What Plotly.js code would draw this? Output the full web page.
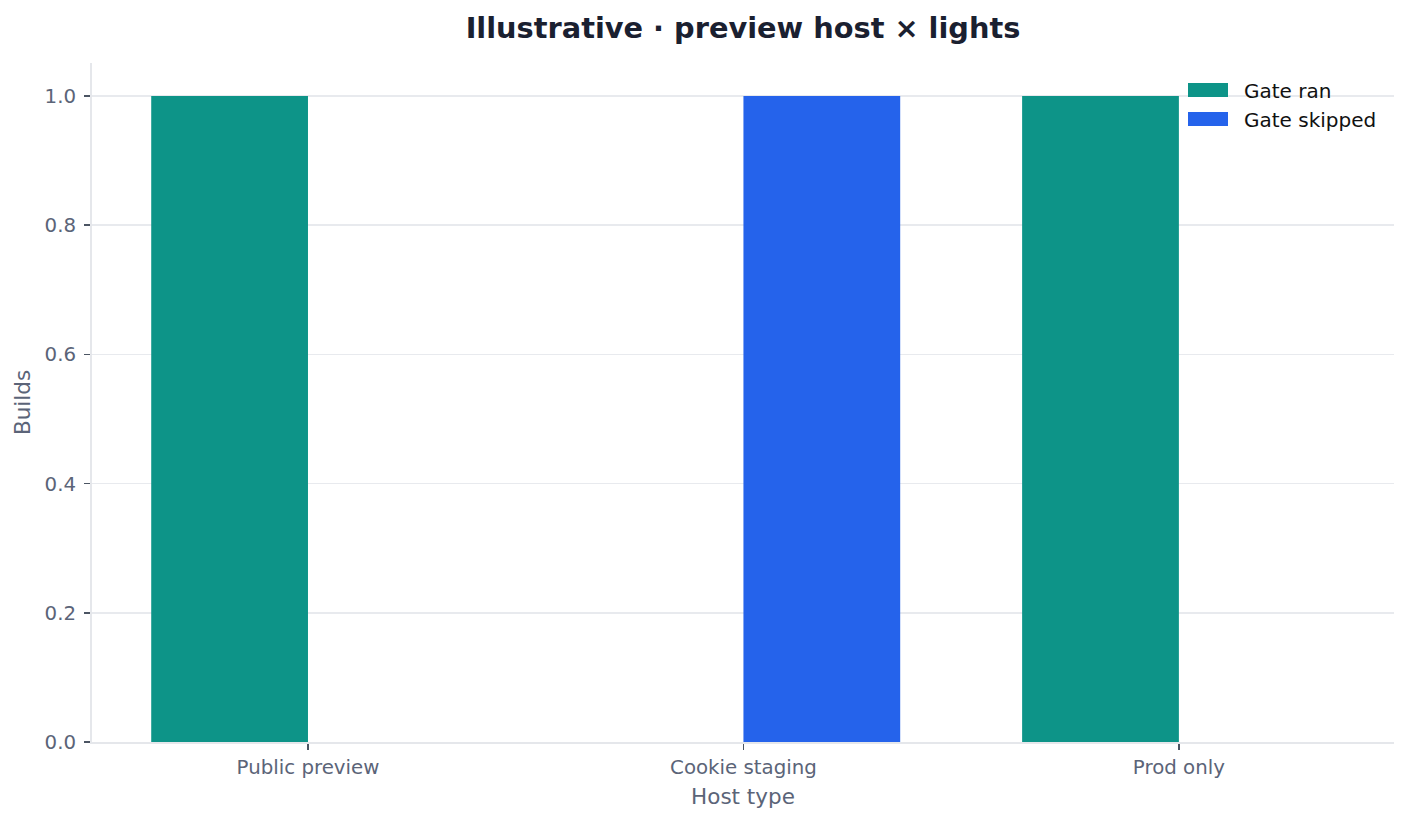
<!DOCTYPE html>
<html>
<head>
<meta charset="utf-8">
<script src="https://cdn.plot.ly/plotly-3.0.1.min.js"></script>
<style>
html,body{margin:0;padding:0;background:#fff;}
#chart{width:1410px;height:821px;}
</style>
</head>
<body>
<div id="chart"></div>
<script>
const categories = ["Public preview", "Cookie staging", "Prod only"];
const gateRan = [1, 0, 1];
const gateSkipped = [0, 1, 0];
const seriesNames = ["Gate ran", "Gate skipped"];
const seriesColors = ["#0d9488", "#2563eb"];
const yTicks = [0, 0.2, 0.4, 0.6, 0.8, 1.0];
const yTickLabels = ["0.0", "0.2", "0.4", "0.6", "0.8", "1.0"];

const FONT = "DejaVu Sans, sans-serif";
const TXT = "#5b6478";

const traces = [
  {type: "bar", name: seriesNames[0], x: categories, y: gateRan,
   marker: {color: seriesColors[0], line: {width: 0}}, showlegend: false, hoverinfo: "x+y+name"},
  {type: "bar", name: seriesNames[1], x: categories, y: gateSkipped,
   marker: {color: seriesColors[1], line: {width: 0}}, showlegend: false, hoverinfo: "x+y+name"}
];

// custom legend (wide swatches like the reference)
const shapes = [];
const annotations = [];
const legX0 = 1188, legW = 40, legH = 14, legTextX = 1242;
const legRows = [90, 119];
seriesNames.forEach((n, i) => {
  const cy = legRows[i];
  shapes.push({type: "rect", xref: "paper", yref: "paper",
    x0: (legX0 - 92) / 1302, x1: (legX0 + legW - 92) / 1302,
    y0: (742 - (cy + legH / 2)) / 679, y1: (742 - (cy - legH / 2)) / 679,
    fillcolor: seriesColors[i], line: {width: 0}, layer: "above"});
  annotations.push({xref: "paper", yref: "paper",
    x: (legTextX - 92) / 1302, y: (742 - cy - 1) / 679,
    xanchor: "left", yanchor: "middle", showarrow: false, text: n,
    font: {family: FONT, size: 20, color: "#111111"}});
});

const layout = {
  width: 1410, height: 821,
  paper_bgcolor: "#ffffff", plot_bgcolor: "#ffffff",
  margin: {l: 92, r: 16, t: 63, b: 79, pad: 0},
  font: {family: FONT, color: TXT},
  title: {text: "<b>Illustrative · preview host × lights</b>",
    font: {family: FONT, size: 28.8, color: "#1a2030"},
    xref: "paper", x: 0.5, xanchor: "center",
    yref: "container", y: 1 - 28 / 821, yanchor: "middle"},
  barmode: "group", bargap: 0.28, bargroupgap: 0,
  xaxis: {
    type: "category", range: [-0.496, 2.494],
    showgrid: false, zeroline: false,
    showline: true, linecolor: "#e5e7eb", linewidth: 2,
    ticks: "outside", ticklen: 6, tickwidth: 1.5, tickcolor: "#4b5563",
    tickfont: {family: FONT, size: 19.8, color: TXT},
    title: {text: "Host type", font: {family: FONT, size: 21.5, color: TXT}, standoff: 11},
    fixedrange: true
  },
  yaxis: {
    range: [0, 1.0511], tickvals: yTicks, ticktext: yTickLabels,
    showgrid: true, gridcolor: "#e8eaee", gridwidth: 1.5,
    zeroline: false,
    showline: true, linecolor: "#e5e7eb", linewidth: 2,
    ticks: "outside", ticklen: 6, tickwidth: 1.5, tickcolor: "#4b5563",
    ticklabelstandoff: 4,
    tickfont: {family: FONT, size: 19.8, color: TXT},
    title: {text: "Builds", font: {family: FONT, size: 21.5, color: TXT}, standoff: 8},
    fixedrange: true
  },
  shapes: shapes,
  annotations: annotations,
  showlegend: false
};

Plotly.newPlot("chart", traces, layout, {displayModeBar: false, staticPlot: true});
</script>
</body>
</html>
